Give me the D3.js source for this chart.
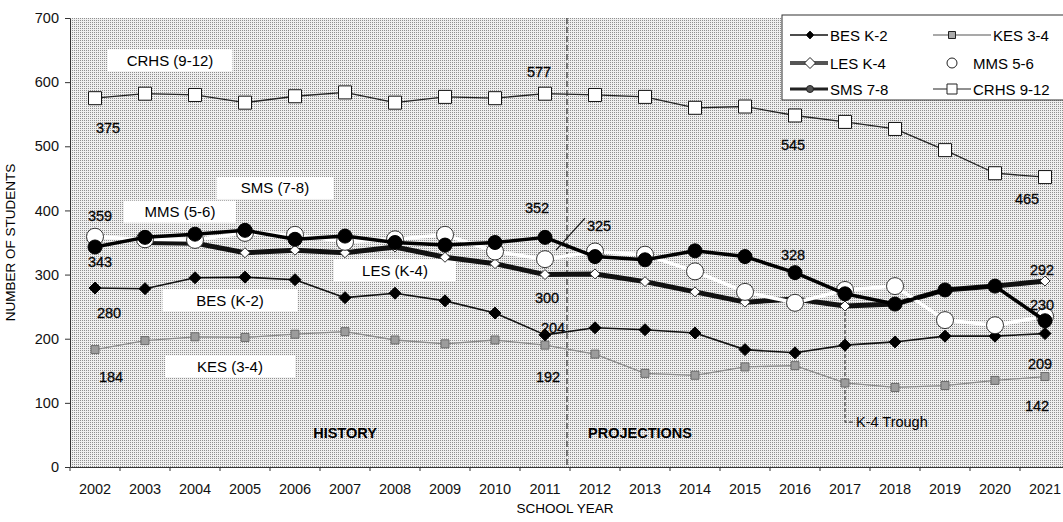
<!DOCTYPE html>
<html>
<head>
<meta charset="utf-8">
<style>
    body { margin: 0; background: #fff; }
    svg { font-family: "Liberation Sans", Arial, sans-serif; overflow: hidden; }
    .axis text { font-size: 14.5px; fill: #111; }
    .axis path, .axis line { stroke: #333; }
</style>
</head>
<body>
<svg width="1063" height="522"></svg>

<script src="https://d3js.org/d3.v7.min.js"></script>
<script>
    // enrollment by school, history + projections
    let years = [2002, 2003, 2004, 2005, 2006, 2007, 2008, 2009, 2010, 2011,
                 2012, 2013, 2014, 2015, 2016, 2017, 2018, 2019, 2020, 2021]
    let bes  = [279, 278, 295, 296, 292, 264, 271, 259, 240, 206, 217, 214, 209, 183, 178, 190, 195, 204, 204, 208]
    let kes  = [183, 197, 203, 202, 207, 211, 198, 192, 198, 190, 176, 146, 143, 156, 158, 131, 124, 127, 135, 141]
    let les  = [null, 350, 349, 334, 338, 334, 343, 327, 317, 300, 301, 289, 273, 257, 262, 251, 254, 276, 282, 290]
    let mms  = [359, 355, 354, 365, 362, 351, 355, 362, 336, 324, 336, 331, 305, 273, 256, 276, 282, 229, 221, 235]
    let sms  = [343, 358, 363, 369, 355, 360, 350, 346, 350, 358, 328, 323, 337, 328, 303, 270, 254, 276, 282, 228]
    let crhs = [575, 582, 580, 568, 578, 584, 568, 577, 575, 582, 580, 577, 560, 562, 548, 538, 527, 494, 458, 452]
    let yTicks = [0, 100, 200, 300, 400, 500, 600, 700]

    let svg = d3.select("svg")
    let margin = { top: 18, right: -7, bottom: 55, left: 70 }
    let width = 1063, height = 522

    let x = d3.scaleBand()
        .domain(years)
        .range([margin.left, width - margin.right])
        .padding(0)
    let cx = yr => x(yr) + x.bandwidth() / 2
    // continuous version for placing annotations between categories
    let xl = d3.scaleLinear().domain([2002, 2021]).range([cx(2002), cx(2021)])

    let y = d3.scaleLinear()
        .domain([0, 700])
        .range([height - margin.bottom, margin.top])

    // stippled background
    let defs = svg.append("defs")
    let pat = defs.append("pattern")
        .attr("id", "stip")
        .attr("width", 2).attr("height", 2)
        .attr("patternUnits", "userSpaceOnUse")
    pat.append("rect").attr("width", 2).attr("height", 2).attr("fill", "#efefef")
    pat.append("rect").attr("width", 1).attr("height", 1).attr("fill", "#8f8f8f")

    svg.append("rect")
        .attr("x", margin.left)
        .attr("y", y(700))
        .attr("width", x.range()[1] - margin.left)
        .attr("height", y(0) - y(700))
        .attr("fill", "url(#stip)")

    // axes
    let yAxis = svg.append("g")
        .attr("class", "axis")
        .attr("transform", `translate(${margin.left},0)`)
        .call(d3.axisLeft(y).tickValues(yTicks).tickSize(5).tickPadding(6).tickSizeOuter(0))

    let xAxis = svg.append("g")
        .attr("class", "axis")
        .attr("transform", `translate(0,${y(0)})`)
        .call(d3.axisBottom(x).tickSize(0).tickPadding(17).tickSizeOuter(0))

    // tick marks between categories
    svg.append("g")
        .selectAll("line")
        .data(years)
        .join("line")
        .attr("x1", d => x(d)).attr("x2", d => x(d))
        .attr("y1", y(0)).attr("y2", y(0) + 4)
        .attr("stroke", "#333")

    svg.append("text")
        .attr("x", x(2012) - 5)
        .attr("y", 513)
        .attr("text-anchor", "middle")
        .style("font-size", "13.5px")
        .text("SCHOOL YEAR")

    svg.append("text")
        .attr("transform", `translate(15,${(y(0) + y(700)) / 2}) rotate(-90)`)
        .attr("text-anchor", "middle")
        .style("font-size", "13.5px")
        .text("NUMBER OF STUDENTS")

    // history / projection divider
    svg.append("line")
        .attr("x1", x(2012) - 3).attr("x2", x(2012) - 3)
        .attr("y1", y(700)).attr("y2", y(0))
        .attr("stroke", "#111")
        .attr("stroke-dasharray", "6,3")

    // K-4 trough marker
    svg.append("path")
        .attr("d", `M${cx(2017)},${y(les[15]) + 6} L${cx(2017)},${y(70)} L${cx(2017) + 10},${y(70)}`)
        .attr("fill", "none")
        .attr("stroke", "#222")
        .attr("stroke-dasharray", "4,2")
    svg.append("text")
        .attr("x", cx(2017) + 11)
        .attr("y", y(70) + 5)
        .style("font-size", "14.5px")
        .text("K-4 Trough")

    svg.append("text")
        .attr("x", xl(2007)).attr("y", y(53) + 5)
        .attr("text-anchor", "middle")
        .style("font-size", "14.5px").style("font-weight", "bold")
        .text("HISTORY")
    svg.append("text")
        .attr("x", xl(2012.9)).attr("y", y(53) + 5)
        .attr("text-anchor", "middle")
        .style("font-size", "14.5px").style("font-weight", "bold")
        .text("PROJECTIONS")

    // white label boxes
    let boxes = [
        { t: "CRHS (9-12)", yr: 2003.5, v: 634, w: 125 },
        { t: "SMS (7-8)", yr: 2005.6, v: 435, w: 117 },
        { t: "MMS (5-6)", yr: 2003.7, v: 398, w: 112 },
        { t: "LES (K-4)", yr: 2008.0, v: 307, w: 122 },
        { t: "BES (K-2)", yr: 2004.7, v: 260, w: 135 },
        { t: "KES (3-4)", yr: 2004.7, v: 157, w: 130 }
    ]
    let bg = svg.append("g").selectAll("g").data(boxes).join("g")
        .attr("transform", d => `translate(${xl(d.yr)},${y(d.v)})`)
    bg.append("rect")
        .attr("x", d => -d.w / 2).attr("y", -11)
        .attr("width", d => d.w).attr("height", 22)
        .attr("fill", "#fff")
    bg.append("text")
        .attr("text-anchor", "middle")
        .attr("dy", 5.5)
        .style("font-size", "15px")
        .text(d => d.t)

    // lines + markers
    let line = vals => d3.line()
        .defined(d => d != null)
        .x((d, i) => cx(years[i]))
        .y(d => y(d))(vals)

    let diamond = r => `M0,${-r}L${r},0L0,${r}L${-r},0Z`
    let square = r => `M${-r},${-r}H${r}V${r}H${-r}Z`

    function drawSeries(vals, lineStyle, marker) {
        let g = svg.append("g")
        g.append("path")
            .attr("d", line(vals))
            .attr("fill", "none")
            .attr("stroke", lineStyle.stroke)
            .attr("stroke-width", lineStyle.width)
            .attr("stroke-linejoin", "round")
        let pts = vals.map((v, i) => ({ v: v, yr: years[i] })).filter(d => d.v != null)
        if (marker.type === "circle") {
            g.selectAll("circle").data(pts).join("circle")
                .attr("cx", d => cx(d.yr)).attr("cy", d => y(d.v))
                .attr("r", marker.r)
                .attr("fill", marker.fill).attr("stroke", marker.stroke).attr("stroke-width", 1)
        } else {
            g.selectAll(".m").data(pts).join("path")
                .attr("transform", d => `translate(${cx(d.yr)},${y(d.v)})`)
                .attr("d", marker.type === "diamond" ? diamond(marker.r) : square(marker.r))
                .attr("fill", marker.fill).attr("stroke", marker.stroke).attr("stroke-width", 1)
        }
    }

    drawSeries(crhs, { stroke: "#222", width: 1.3 }, { type: "square", r: 6.5, fill: "#fff", stroke: "#111" })
    drawSeries(kes, { stroke: "#8a8a8a", width: 1.3 }, { type: "square", r: 4, fill: "#9c9c9c", stroke: "#6a6a6a" })
    drawSeries(bes, { stroke: "#111", width: 1.6 }, { type: "diamond", r: 6, fill: "#000", stroke: "#000" })
    drawSeries(les, { stroke: "#111", width: 5 }, { type: "diamond", r: 5, fill: "#fff", stroke: "#333" })
    drawSeries(mms, { stroke: "#fff", width: 3.5 }, { type: "circle", r: 8.5, fill: "#fff", stroke: "#333" })
    drawSeries(sms, { stroke: "#000", width: 3.5 }, { type: "circle", r: 7, fill: "#000", stroke: "#000" })

    // value labels
    let notes = [
        { t: "375", s: crhs, yr: 2002, dx: 13, dy: 30 },
        { t: "577", s: crhs, yr: 2011, dx: -6, dy: -22 },
        { t: "545", s: crhs, yr: 2016, dx: -2, dy: 30 },
        { t: "465", s: crhs, yr: 2021, dx: -18, dy: 22 },
        { t: "359", s: mms, yr: 2002, dx: 5, dy: -21 },
        { t: "343", s: sms, yr: 2002, dx: 5, dy: 15 },
        { t: "280", s: bes, yr: 2002, dx: 14, dy: 25 },
        { t: "184", s: kes, yr: 2002, dx: 16, dy: 27 },
        { t: "352", s: sms, yr: 2011, dx: -8, dy: -29 },
        { t: "300", s: les, yr: 2011, dx: 2, dy: 23 },
        { t: "204", s: bes, yr: 2011, dx: 8, dy: -7 },
        { t: "192", s: kes, yr: 2011, dx: 3, dy: 32 },
        { t: "325", s: sms, yr: 2012, dx: 4, dy: -31 },
        { t: "328", s: sms, yr: 2016, dx: -2, dy: -18 },
        { t: "292", s: les, yr: 2021, dx: -3, dy: -11 },
        { t: "230", s: sms, yr: 2021, dx: -3, dy: -16 },
        { t: "209", s: bes, yr: 2021, dx: -5, dy: 30 },
        { t: "142", s: kes, yr: 2021, dx: -8, dy: 29 }
    ]
    svg.append("g").selectAll("text").data(notes).join("text")
        .attr("x", d => cx(d.yr) + d.dx)
        .attr("y", d => y(d.s[years.indexOf(d.yr)]) + d.dy + 5)
        .attr("text-anchor", "middle")
        .style("font-size", "14.5px")
        .style("stroke", "#111").style("stroke-width", 0.3)
        .text(d => d.t)

    // leader line for 325
    svg.append("line")
        .attr("x1", cx(2011) + 11).attr("y1", y(338))
        .attr("x2", cx(2012) - 10).attr("y2", y(388))
        .attr("stroke", "#111").attr("stroke-width", 1.2)

    // legend
    let lg = svg.append("g")
    lg.append("rect")
        .attr("x", 782).attr("y", 15)
        .attr("width", 300).attr("height", 85)
        .attr("fill", "#fff").attr("stroke", "#333")

    let legendItems = [
        { t: "BES K-2", col: 0, row: 0, lw: 1.6, stroke: "#111", m: "diamond", r: 4, fill: "#000" },
        { t: "LES K-4", col: 0, row: 1, lw: 4, stroke: "#555", m: "diamond", r: 5.5, fill: "#fff" },
        { t: "SMS 7-8", col: 0, row: 2, lw: 3, stroke: "#222", m: "circle", r: 3.5, fill: "#555" },
        { t: "KES 3-4", col: 1, row: 0, lw: 1.2, stroke: "#555", m: "square", r: 3.5, fill: "#aaa" },
        { t: "MMS 5-6", col: 1, row: 1, lw: 0, stroke: "none", m: "circle", r: 5, fill: "#fff" },
        { t: "CRHS  9-12", col: 1, row: 2, lw: 1.2, stroke: "#222", m: "square", r: 5, fill: "#fff" }
    ]
    let li = lg.selectAll(".li").data(legendItems).join("g")
        .attr("transform", d => `translate(${d.col ? 933 : 790},${[35, 63, 89][d.row]})`)
    li.append("line")
        .attr("x1", 0).attr("x2", d => d.t === "KES 3-4" ? 58 : 38)
        .attr("stroke", d => d.stroke).attr("stroke-width", d => d.lw)
    li.append("path")
        .attr("transform", d => `translate(${d.col ? 19 : 20},0)`)
        .attr("d", d => d.m === "diamond" ? diamond(d.r) : d.m === "square" ? square(d.r) : d3.arc()({ innerRadius: 0, outerRadius: d.r, startAngle: 0, endAngle: 2 * Math.PI }))
        .attr("fill", d => d.fill).attr("stroke", "#222")
    li.append("text")
        .attr("x", d => d.t === "KES 3-4" ? 60 : 40)
        .attr("dy", 5.5)
        .style("font-size", "15px")
        .text(d => d.t)
</script>
</body>
</html>
